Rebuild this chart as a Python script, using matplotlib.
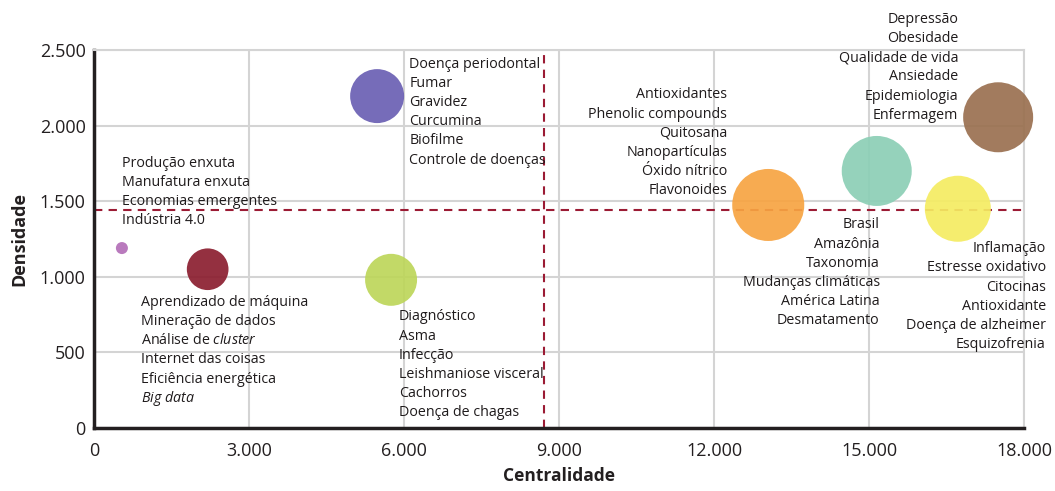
import numpy as np
import matplotlib
matplotlib.use("Agg")
import matplotlib.pyplot as plt

plt.rcParams['font.family'] = ['Open Sans', 'DejaVu Sans']
plt.rcParams['mathtext.fontset'] = 'custom'
plt.rcParams['mathtext.it'] = 'Open Sans:italic'
plt.rcParams['mathtext.rm'] = 'Open Sans'

# cluster centres (centralidade, densidade) and bubble areas
centralidade = [540, 2200, 5480, 5750, 13050, 15150, 17500, 16720]
densidade = [1190, 1050, 2195, 980, 1475, 1700, 2055, 1450]
tamanho = [75, 900, 1510, 1400, 2690, 2540, 2540, 2260]
cores = ['#b36fb8', '#8b1e2f', '#6a5fb3', '#bdd65a', '#f7a442',
         '#8ccfb6', '#9a7050', '#f5ec62']

# mean lines
media_x = 8710
media_y = 1445

palavras = [
    ["Produção enxuta", "Manufatura enxuta", "Economias emergentes", "Indústria 4.0"],
    ["Aprendizado de máquina", "Mineração de dados", r"Análise de $\it{cluster}$",
     "Internet das coisas", "Eficiência energética", r"$\it{Big\ data}$"],
    ["Doença periodontal", "Fumar", "Gravidez", "Curcumina", "Biofilme",
     "Controle de doenças"],
    ["Diagnóstico", "Asma", "Infecção", "Leishmaniose visceral", "Cachorros",
     "Doença de chagas"],
    ["Antioxidantes", "Phenolic compounds", "Quitosana", "Nanopartículas",
     "Óxido nítrico", "Flavonoides"],
    ["Brasil", "Amazônia", "Taxonomia", "Mudanças climáticas", "América Latina",
     "Desmatamento"],
    ["Depressão", "Obesidade", "Qualidade de vida", "Ansiedade", "Epidemiologia",
     "Enfermagem"],
    ["Inflamação", "Estresse oxidativo", "Citocinas", "Antioxidante",
     "Doença de alzheimer", "Esquizofrenia"],
]

# label block placement relative to each bubble (pixels) and alignment
offsets = [(0, 85, 'left'), (-67, -33, 'left'), (32, 32, 'left'), (8, -37, 'left'),
           (-41, 110, 'right'), (3, -54, 'right'), (-40, 98, 'right'), (88, -40, 'right')]

fig = plt.figure(figsize=(10.55, 4.91), dpi=100)
ax = fig.add_axes([0.0891, 0.1283, 0.8815, 0.7699])

ax.set_xlim(0, 18000)
ax.set_ylim(0, 2500)
ax.set_xticks(np.arange(0, 18001, 3000))
ax.set_yticks(np.arange(0, 2501, 500))
ax.set_xticklabels(['0', '3.000', '6.000', '9.000', '12.000', '15.000', '18.000'])
ax.set_yticklabels(['0', '500', '1.000', '1.500', '2.000', '2.500'])
ax.tick_params(length=0, labelsize=13, colors='#231f20')
ax.tick_params(axis='x', pad=10)
ax.tick_params(axis='y', pad=6)
ax.grid(True, color='#d4d4d4', linewidth=1.5)
ax.set_axisbelow(True)

for s in ['top', 'right']:
    ax.spines[s].set_color('#d4d4d4')
    ax.spines[s].set_linewidth(1.5)
for s in ['left', 'bottom']:
    ax.spines[s].set_color('#231f20')
    ax.spines[s].set_linewidth(2.5)

ax.axvline(media_x, color='#9b1b34', linestyle=(0, (4, 3)), linewidth=1.5, zorder=2)
ax.axhline(media_y, color='#9b1b34', linestyle=(0, (4, 3)), linewidth=1.5, zorder=2)

ax.scatter(centralidade, densidade, s=tamanho, c=cores, alpha=0.92,
           linewidths=0, zorder=3, clip_on=False)

for cx, cy, linhas, (dx, dy, ha) in zip(centralidade, densidade, palavras, offsets):
    for i, linha in enumerate(linhas):
        ax.annotate(linha, (cx, cy), xytext=(dx, dy - 19.2 * i),
                    textcoords='offset pixels', ha=ha, va='center',
                    fontsize=10.3, color='#1f1b1c', annotation_clip=False, zorder=4)

ax.set_xlabel('Centralidade', fontsize=12.5, fontweight='bold', color='#231f20', labelpad=5)
ax.set_ylabel('Densidade', fontsize=13, fontweight='bold', color='#231f20', labelpad=8)

fig.savefig('out.png', dpi=100)
